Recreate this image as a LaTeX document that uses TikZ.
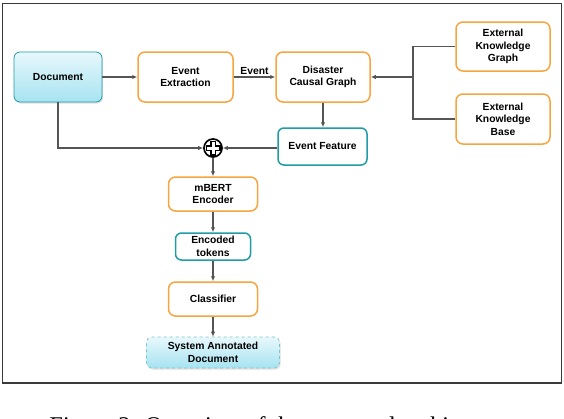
\documentclass[tikz,border=0pt]{standalone}
\usepackage{fontspec}
\setmainfont{Liberation Sans}
\newfontfamily\capfont{Liberation Serif}
\usetikzlibrary{arrows.meta,shadows}
\definecolor{orng}{HTML}{F7A53E}
\definecolor{tealb}{HTML}{1F9CA6}
\definecolor{cyantop}{HTML}{E8F8FC}
\definecolor{cyanbot}{HTML}{A6E3F1}
\definecolor{arrg}{HTML}{555555}
\definecolor{framec}{HTML}{3A3A3A}
\tikzset{
  x=1pt,y=-1pt,
  every node/.style={font=\bfseries\fontsize{10.3}{12.4}\selectfont, align=center, inner sep=1pt},
  obox/.style={draw=orng, line width=1.5pt, rounded corners=7pt, fill=white},
  tbox/.style={draw=tealb, line width=1.5pt, rounded corners=6pt, fill=white},
  cbox/.style={draw=tealb, line width=0.8pt, rounded corners=6pt, top color=cyantop, bottom color=cyanbot,
     drop shadow={opacity=0.25, shadow xshift=1pt, shadow yshift=-1.5pt}},
  sbox/.style={draw=tealb!60, dashed, line width=0.6pt, rounded corners=5pt, top color=cyantop, bottom color=cyanbot,
     drop shadow={opacity=0.25, shadow xshift=1pt, shadow yshift=-1.5pt}},
  arr/.style={draw=arrg, line width=1.3pt, -{Latex[length=5pt,width=4.5pt]}},
  ln/.style={draw=arrg, line width=1.3pt},
}
\begin{document}
\begin{tikzpicture}
\useasboundingbox (0,0) rectangle (564,418);
\fill[white] (0,0) rectangle (564,418);
\draw[framec, line width=1.4pt] (2.5,3.5) rectangle (561.5,383);

\node[cbox, minimum width=88pt, minimum height=50pt] (doc) at (58,77) {Document};
\node[obox, minimum width=95pt, minimum height=50pt] (ee) at (185.5,77) {Event\\Extraction};
\node[obox, minimum width=94pt, minimum height=50pt] (dcg) at (323,77) {Disaster\\Causal Graph};
\node[obox, minimum width=94pt, minimum height=49pt] (ekg) at (503,46.5) {External\\Knowledge\\Graph};
\node[obox, minimum width=94pt, minimum height=50pt] (ekb) at (503,119) {External\\Knowledge\\Base};
\node[tbox, minimum width=89pt, minimum height=37pt] (ef) at (322.5,146.5) {Event Feature};
\node[circle, draw=black, line width=1.7pt, fill=white, minimum size=18pt, inner sep=0pt] (plus) at (213,148) {};
\node[obox, minimum width=89pt, minimum height=34pt] (mb) at (213,194) {mBERT\\Encoder};
\node[tbox, minimum width=75pt, minimum height=27pt] (et) at (213,246.5) {Encoded\\tokens};
\node[obox, minimum width=89pt, minimum height=34pt] (cl) at (213,299) {Classifier};
\node[sbox, minimum width=133pt, minimum height=31pt] (sad) at (213,352.5) {System Annotated\\Document};

% plus glyph
\draw[black, line width=1.4pt, fill=white, shift={(plus.center)}]
  (-2.2,-6.8) -- (2.2,-6.8) -- (2.2,-2.2) -- (6.8,-2.2) -- (6.8,2.2) -- (2.2,2.2) -- (2.2,6.8) -- (-2.2,6.8) -- (-2.2,2.2) -- (-6.8,2.2) -- (-6.8,-2.2) -- (-2.2,-2.2) -- cycle;

\draw[arr] (doc) -- (ee);
\draw[arr] (ee) -- node[above=1pt]{Event} (dcg);
\coordinate (jn) at (413,77);
\draw[ln] (ekg.west) -| (jn) |- (ekb.west);
\draw[arr] (jn) -- (dcg.east);
\draw[arr] (dcg.south) -- (dcg.south |- ef.north);
\draw[arr] (doc.south) |- (plus.west);
\draw[arr] (ef.west |- plus) -- (plus.east);
\draw[arr] (plus.south) -- (mb.north);
\draw[arr] (mb) -- (et);
\draw[arr] (et) -- (cl);
\draw[arr] (cl) -- (sad);

\node[font=\capfont\fontsize{24}{28}\selectfont, anchor=base, inner sep=0pt] (cap) at (282,433) {Figure 2: Overview of the proposed architecture};
\end{tikzpicture}
\end{document}
